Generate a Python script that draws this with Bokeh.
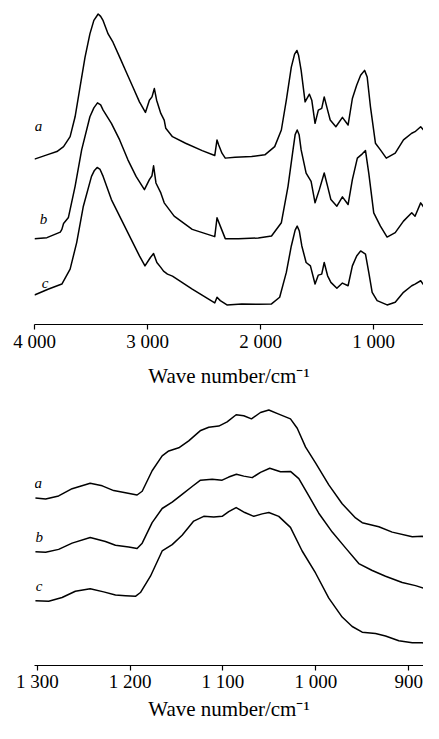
from bokeh.plotting import figure
from bokeh.models import Range1d, FixedTicker, Label
from bokeh.layouts import column
from bokeh.embed import file_html
from bokeh.resources import INLINE

# ---------------- full spectra (4000-400 cm-1) ----------------
top_wn_a = [4000,3890,3802,3743,3685,3641,3597,3553,3510,3475,3437,3415,3393,3349,3306,3247,3189,3130,3072,3019,2984,2961,
            2940,2920,2883,2853,2839,2780,2664,2517,2406,2386,2371,2342,2313,2226,2080,1963,1876,1817,1773,1729,
            1700,1679,1665,1642,1607,1569,1548,1519,1490,1460,1438,1408,1385,1335,1277,1227,1189,1151,1116,1081,1058,1029,
            985,941,889,810,737,664,635,585,532,488,445]
top_int_a = [166.4,170.7,174,179,189,209,239,269,292.4,306,312.4,310,305.7,292.4,284,269,254,239,224,213.4,225.7,229,
             237.4,225.7,212.4,205.7,197.4,189,182.4,175,170,185.7,180.7,172.4,167.4,168.4,169,170.7,179,195.7,225.7,259,
             272,275.7,271,255.7,224,231.7,225.7,202.4,215.7,217.4,229,215.7,205.7,199,208.4,200.7,227.4,240.7,250.7,255.7,249,219,
             182.4,175.7,167.4,172.4,185.7,192.4,194,199,192.4,187.4,180.7]

top_wn_b = [4000,3890,3772,3758,3743,3700,3641,3583,3510,3475,3443,3415,3393,3320,3247,3174,3102,3028,2984,2961,2947,2926,
            2883,2853,2765,2605,2406,2386,2357,2313,2196,2021,1904,1817,1758,1714,1695,1677,1660,1642,1598,1554,1519,1481,
            1438,1408,1379,1326,1277,1227,1189,1145,1101,1073,1044,1000,941,882,810,737,664,635,585,532,488,445]
top_int_b = [86.2,87.4,93,95.7,101.7,107.7,139,175.7,209,218,223,221,215.7,202.4,185.7,165.7,149,135.7,145.7,149.7,159.7,142.4,
             132.4,122.4,109,95.7,88.4,107.4,99,86.4,86.4,87,89,102.4,139,175.7,191,195.7,191,175.7,152.4,144,122.4,135.7,
             152.4,139,125.7,119,128.4,120.7,145.7,167.4,171.7,175,152.4,112.4,99,88,92.4,104,112.4,109,122.4,114,105.7,97.4]

top_wn_c = [4000,3875,3758,3685,3627,3568,3496,3470,3446,3420,3393,3320,3233,3145,3072,3023,2975,2947,2918,2885,2859,2824,
            2780,2605,2406,2386,2357,2298,2167,2021,1904,1832,1773,1729,1695,1677,1658,1636,1598,1560,1519,1490,1460,1438,
            1408,1379,1326,1277,1227,1189,1151,1116,1073,1044,1014,970,882,810,737,664,635,585,532,488,445]
top_int_c = [29.7,35.7,40.7,55.7,82.4,119,149,155,158,156,149,125.7,105.7,85.7,69,59,67.4,71.4,62.4,57.7,53.7,50.7,
             48.7,35.7,21.7,27.4,24,19.7,20.7,20.4,20.7,27.4,52.4,79,95,99,94,79,62.4,59,40.7,49.7,50.7,62.4,
             49,42.4,36.4,41.7,39,59,69,74,70.7,52.4,32.4,24,19.7,22.4,32.4,39,40.7,44,35.7,32.4,29.7]

top_ticks = [4000, 3000, 2000, 1000]
top_tick_labels = ["4 000", "3 000", "2 000", "1 000"]

# ---------------- expanded region (1300-870 cm-1) ----------------
bot_wn_a = [1302,1291,1277,1262.5,1243,1230,1217.7,1205,1192.5,1187,1176.3,1165.5,1158.4,1147.6,1136.9,1124,1115.3,
            1104.5,1095.5,1085.8,1077.6,1069.3,1059.6,1050.6,1039.9,1027.3,1020,1011,1000.3,986,971.6,957.2,950,
            932.1,917.7,896.1,885.4,876.4,867.4]
bot_int_a = [177.3,176.3,179.6,187.3,193,190.3,185.3,183,180.6,184.6,206.3,222,227.3,230.6,238,249,252.3,
             253.6,258,265.6,264.6,261.3,268,270.6,266.3,261.3,251.3,231.3,214.6,191.3,171.3,156.3,151.3,
             147,141.3,136.3,137,132,127.3]

bot_wn_b = [1302,1291,1277,1262.5,1243,1226.6,1215.8,1201.5,1192.5,1187,1176.3,1165.5,1154.7,1144,1133.2,1124.2,
            1111.6,1100.9,1093.8,1085.5,1077.6,1068.5,1059.6,1049.6,1038,1027.3,1018.3,1007.5,996.8,982.3,968,
            953.7,939.2,924.9,906.9,892.6,881.8,867.4]
bot_int_b = [120.6,120,123,129.6,135.6,131.3,127.3,125.6,124,129.6,151.3,166.3,173,181.3,189.6,196.3,
             197.3,196.3,199.6,202.6,200.6,199,204.6,209,205.3,205.6,198,179.6,161.3,141.3,124.6,
             108,100.6,94.6,88,84.6,81.3,75.6]

bot_wn_c = [1302,1287.7,1273.3,1259,1243,1228.5,1215.8,1205,1194.3,1188.9,1178.1,1165.5,1154.7,1144,1131.5,1120.7,
            1109.9,1100.9,1093.8,1085.8,1076.5,1066.8,1057.8,1050.6,1039.9,1027.3,1014.7,1000.3,986,971.6,960.8,
            950,935.7,924.9,910.6,896.1,885.4,867.4]
bot_int_c = [68.6,68,72,78.6,81.3,78,74.6,74,73.3,77.3,94.6,121.3,128,138,153,158,
             157.3,158,163,167.3,162,158,160.6,162,158,146.3,121.3,98,71.3,51.3,41.3,
             35.3,34,31.3,26.3,24,24,20.6]

bot_ticks = [1300, 1200, 1100, 1000, 900]
bot_tick_labels = ["1 300", "1 200", "1 100", "1 000", "900"]

curve_names = ["a", "b", "c"]
top_label_pos = [(3965, 199.7), (3921, 106.4), (3906, 41.7)]
bot_label_pos = [(1299, 193), (1298, 135.6), (1298, 84)]

FONT = "Liberation Serif"
X_TITLE = "Wave number/cm\u207b\u00b9"


def make_panel(x_start, x_end, y_start, y_end, width, height, left, bottom, ticks, tick_labels,
               label_standoff, title_standoff):
    p = figure(width=width, height=height,
               x_range=Range1d(x_start, x_end), y_range=Range1d(y_start, y_end),
               output_backend="svg", toolbar_location=None, y_axis_location=None,
               min_border_left=left, min_border_right=0, min_border_top=0,
               min_border_bottom=bottom)
    p.outline_line_color = None
    p.background_fill_color = "white"
    p.border_fill_color = "white"
    p.xgrid.visible = False
    p.ygrid.visible = False
    ax = p.xaxis[0]
    ax.ticker = FixedTicker(ticks=ticks)
    ax.major_label_overrides = {t: l for t, l in zip(ticks, tick_labels)}
    ax.axis_line_color = "black"
    ax.axis_line_width = 1.2
    ax.major_tick_line_color = "black"
    ax.major_tick_line_width = 1.2
    ax.major_tick_in = 0
    ax.major_tick_out = 5
    ax.minor_tick_line_color = None
    ax.major_label_text_font = FONT
    ax.major_label_text_font_size = "19px"
    ax.major_label_text_color = "black"
    ax.major_label_standoff = label_standoff
    ax.axis_label = X_TITLE
    ax.axis_label_text_font = FONT
    ax.axis_label_text_font_size = "21px"
    ax.axis_label_text_font_style = "normal"
    ax.axis_label_text_color = "black"
    ax.axis_label_standoff = title_standoff
    return p


# overall size 423 x (390 + 333)
p1 = make_panel(4000, 560, 0, 326, 423, 390, 31, 64, top_ticks, top_tick_labels, 1, 9)
for wn, iv in [(top_wn_a, top_int_a), (top_wn_b, top_int_b), (top_wn_c, top_int_c)]:
    p1.line(wn, iv, line_color="black", line_width=1.5, line_join="round")
for name, (lx, ly) in zip(curve_names, top_label_pos):
    p1.add_layout(Label(x=lx, y=ly, text=name, text_font=FONT, text_font_style="italic",
                        text_font_size="15px", text_align="center", text_baseline="middle",
                        text_color="black"))

p2 = make_panel(1303, 884, 0, 291.3, 423, 333, 34, 54, bot_ticks, bot_tick_labels, 0, 2)
for wn, iv in [(bot_wn_a, bot_int_a), (bot_wn_b, bot_int_b), (bot_wn_c, bot_int_c)]:
    p2.line(wn, iv, line_color="black", line_width=1.5, line_join="round")
for name, (lx, ly) in zip(curve_names, bot_label_pos):
    p2.add_layout(Label(x=lx, y=ly, text=name, text_font=FONT, text_font_style="italic",
                        text_font_size="15px", text_align="center", text_baseline="middle",
                        text_color="black"))

layout = column(p1, p2, spacing=0)
open("out.html", "w").write(file_html(layout, INLINE))
